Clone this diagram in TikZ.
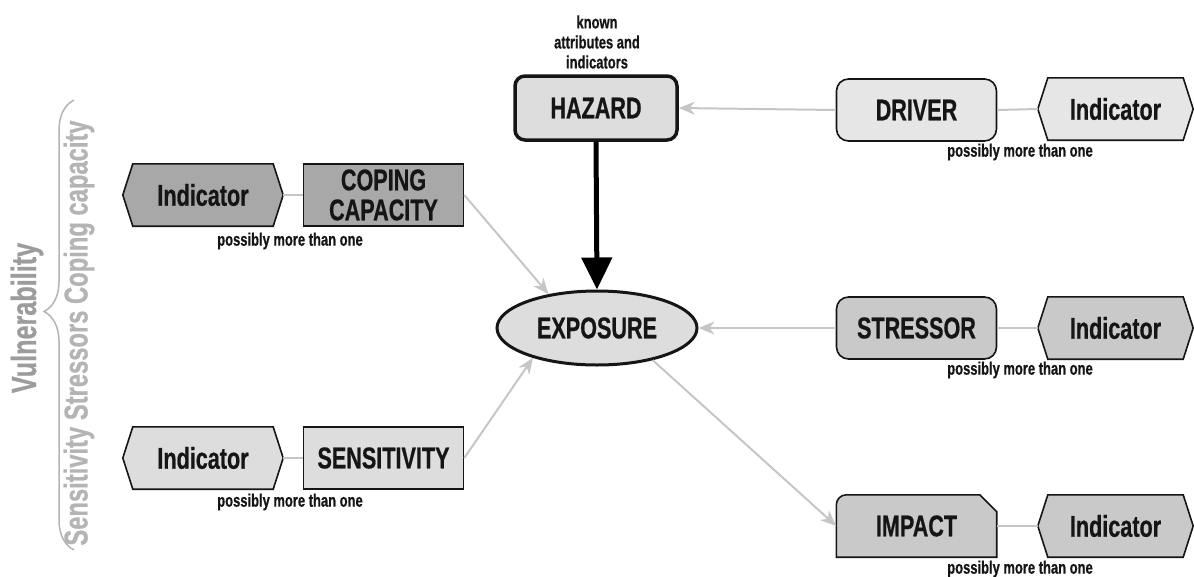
\documentclass[tikz,border=0pt]{standalone}
\usepackage{fontspec}
\setmainfont{Liberation Sans}[FakeStretch=0.72, BoldFeatures={FakeBold=0.6}]
\usetikzlibrary{arrows.meta,shapes.geometric,backgrounds,decorations.pathreplacing}
\definecolor{vlightf}{HTML}{E6E6E6}
\definecolor{lightf}{HTML}{DDDDDD}
\definecolor{midf}{HTML}{C9C9C9}
\definecolor{darkf}{HTML}{A8A8A8}
\definecolor{linkc}{HTML}{C6C6C6}
\definecolor{vulc}{HTML}{9C9C9C}
\definecolor{subc}{HTML}{B4B4B4}
\definecolor{inkc}{HTML}{151515}
\begin{document}
\begin{tikzpicture}[x=1pt,y=-1pt,
  lbl/.style={font=\fontsize{30}{30}\selectfont\bfseries, text=inkc, inner sep=0pt, align=center},
  box/.style={lbl, draw=inkc, line width=1.6pt, minimum width=160pt, minimum height=62pt},
  ind/.style={lbl, minimum width=160pt, minimum height=62pt},
  note/.style={font=\fontsize{18}{20}\selectfont\bfseries, text=inkc, inner sep=0pt, align=center},
  link/.style={draw=linkc, line width=2pt},
  arr/.style={link, -{Stealth[length=16pt,width=13pt,inset=5pt]}},
  outline/.style={draw=inkc, line width=1.6pt}
]
\useasboundingbox (0,0) rectangle (1194,576);

% left side labels
\node[rotate=90, font=\fontsize{35}{35}\selectfont\bfseries, text=vulc, inner sep=0pt] (vul) at (27,318) {Vulnerability};
\node[rotate=90, font=\fontsize{33}{33}\selectfont\bfseries, text=subc, inner sep=0pt] (sub) at (79,333) {Sensitivity Stressors Coping capacity};
\draw[draw=subc, line width=1.5pt, decorate, decoration={brace, amplitude=30pt, aspect=0.53}] (74,550) -- (74,100);

% nodes
\node[box, fill=darkf] (cop) at (383.5,195) {COPING\\CAPACITY};
\node[ind] (indC) at (203,195) {Indicator};
\node[note] (nC) at (290,241) {possibly more than one};

\node[box, fill=lightf] (sen) at (383.5,458) {SENSITIVITY};
\node[ind] (indS) at (203,458) {Indicator};
\node[note] (nS) at (290,502) {possibly more than one};

\node[box, rounded corners=10pt, line width=3.5pt, fill=lightf, minimum width=162pt, minimum height=64pt] (haz) at (596,108) {HAZARD};
\node[note] (known) at (597,42) {known\\attributes and\\indicators};

\node[box, rounded corners=12pt, fill=vlightf] (drv) at (916.5,110) {DRIVER};
\node[ind, minimum width=155pt] (indD) at (1115.5,109) {Indicator};
\node[note] (nD) at (1020,152) {possibly more than one};

\node[box, rounded corners=12pt, fill=midf] (str) at (916.5,328) {STRESSOR};
\node[ind, minimum width=155pt] (indSt) at (1115.5,328) {Indicator};
\node[note] (nSt) at (1020,370) {possibly more than one};

\node[ind] (imp) at (916.5,526) {IMPACT};
\node[ind, minimum width=155pt] (indI) at (1115.5,526) {Indicator};
\node[note] (nI) at (1020,569) {possibly more than one};

\node[lbl, ellipse, draw=inkc, line width=3pt, fill=lightf, minimum width=200pt, minimum height=74pt] (exp) at (597,328) {EXPOSURE};

% shapes behind text
\begin{scope}[on background layer]
  \foreach \n/\c in {indC/darkf, indS/lightf, indD/vlightf, indSt/midf, indI/midf}
    \draw[outline, fill=\c] (\n.west) -- ([xshift=10pt]\n.north west) -- ([xshift=-10pt]\n.north east)
      -- (\n.east) -- ([xshift=-10pt]\n.south east) -- ([xshift=10pt]\n.south west) -- cycle;
  \draw[outline, fill=midf] (imp.south west) [rounded corners=10pt] -- (imp.north west) [sharp corners]
    -- ([xshift=-17pt]imp.north east) -- ([yshift=-17pt]imp.north east) -- (imp.south east) -- cycle;
\end{scope}

% connectors
\draw[link] (indC.east) -- (cop.west);
\draw[link] (indS.east) -- (sen.west);
\draw[link] (drv.east) -- (indD.west);
\draw[link] (str.east) -- (indSt.west);
\draw[link] (imp.east) -- (indI.west);

\draw[arr] (drv.west) -- (haz.east);
\draw[arr] (str.west) -- (exp.east);
\draw[arr] (cop.east) -- (exp.145);
\draw[arr] (sen.east) -- (exp.205);
\draw[arr] (exp.330) -- (imp.west);
\draw[draw=black, line width=5pt, -{Triangle[length=32pt,width=30pt]}] (haz.south) -- (exp.north);
\end{tikzpicture}
\end{document}
